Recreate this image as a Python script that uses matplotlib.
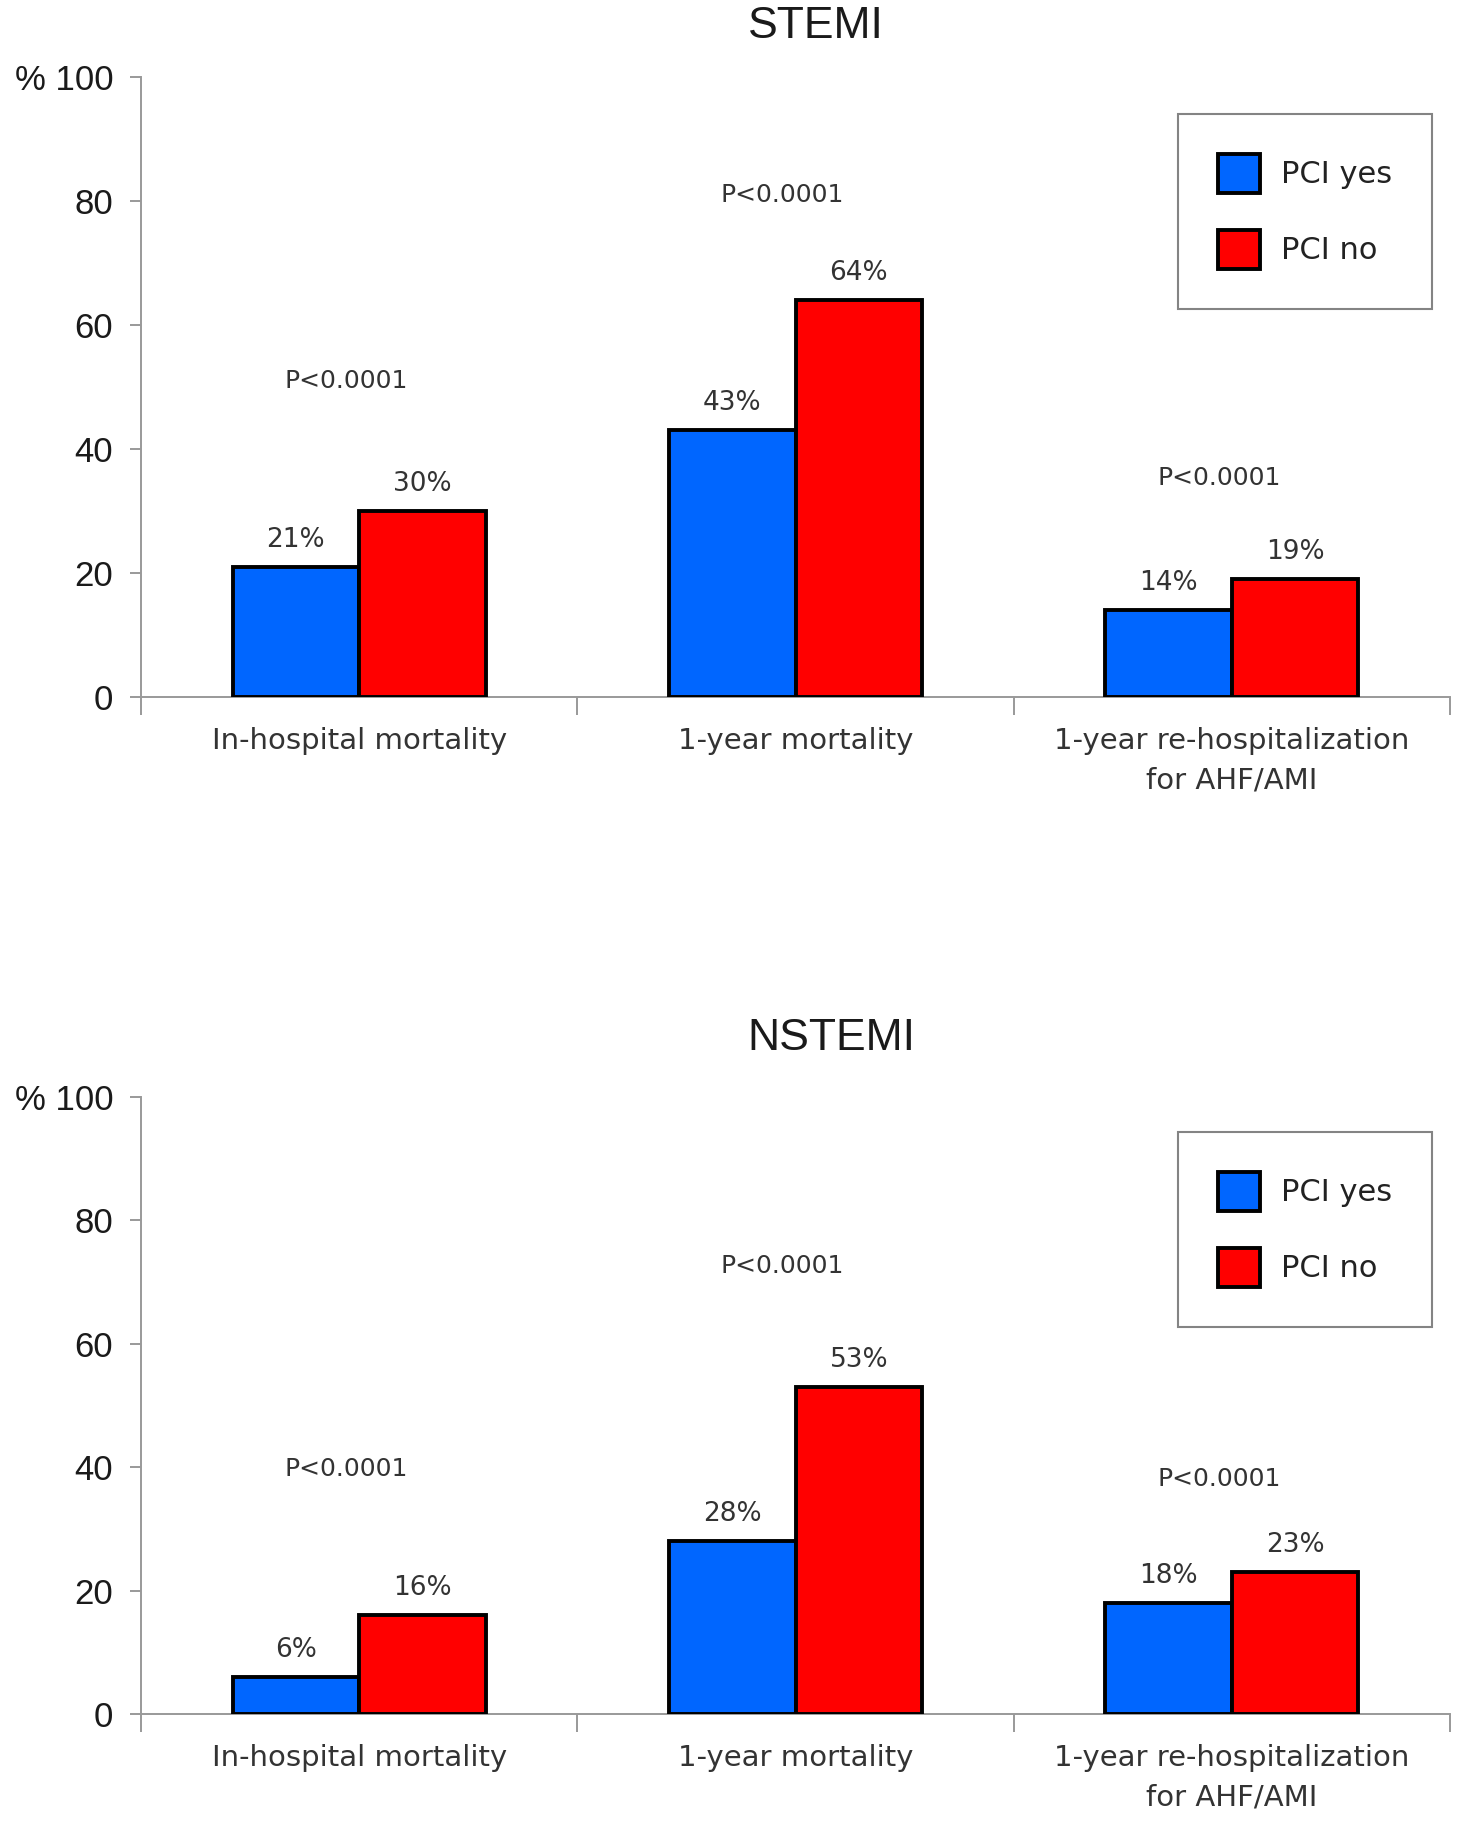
import matplotlib.pyplot as plt
import numpy as np

# dados
categorias = ['In-hospital mortality', '1-year mortality', '1-year re-hospitalization\nfor AHF/AMI']
stemi_sim = [21, 43, 14]
stemi_nao = [30, 64, 19]
nstemi_sim = [6, 28, 18]
nstemi_nao = [16, 53, 23]
p_textos = ['P<0.0001', 'P<0.0001', 'P<0.0001']
stemi_p_altura = [51, 81, 35.3]
nstemi_p_altura = [39.7, 72.6, 38.1]
y_ticks = [0, 20, 40, 60, 80, 100]
y_labels = ['0', '20', '40', '60', '80', '% 100']

azul = '#0066FF'
vermelho = '#FF0000'
fonte_anot = 'DejaVu Sans'
fonte_eixo = 'Liberation Sans'

fig = plt.figure(figsize=(14.57, 18.21), dpi=100)
ax1 = fig.add_axes([0.0968, 0.6173, 0.8984, 0.3405])
ax2 = fig.add_axes([0.0968, 0.0588, 0.8984, 0.3388])


def painel(ax, sim, nao, p_alt, titulo, tx, ty, leg_y):
    x = np.arange(len(categorias))
    w = 0.29
    b1 = ax.bar(x - w / 2, sim, w, color=azul, edgecolor='black', linewidth=2.8, label='PCI yes', zorder=3)
    b2 = ax.bar(x + w / 2, nao, w, color=vermelho, edgecolor='black', linewidth=2.8, label='PCI no', zorder=3)
    for barras, vals in [(b1, sim), (b2, nao)]:
        for b, v in zip(barras, vals):
            ax.annotate('%d%%' % v, (b.get_x() + b.get_width() / 2, v), xytext=(0, 10),
                        textcoords='offset points', ha='center', va='bottom',
                        fontsize=19, color='#333333', family=fonte_anot)
    for i, (t, h) in enumerate(zip(p_textos, p_alt)):
        ax.text(i - 0.03, h, t, ha='center', va='center', fontsize=18, color='#333333', family=fonte_anot)

    ax.set_xlim(-0.5, 2.5)
    ax.set_ylim(0, 100)
    ax.set_yticks(y_ticks)
    ax.set_yticklabels(y_labels, fontsize=25, family=fonte_eixo, color='#1a1a1a')
    ax.set_xticks(x)
    ax.set_xticklabels(categorias, fontsize=21, family=fonte_anot, color='#333333', linespacing=1.5)
    ax.set_xticks([-0.5, 0.5, 1.5, 2.5], minor=True)
    ax.tick_params(axis='x', which='major', length=0, pad=22)
    ax.tick_params(axis='x', which='minor', length=13, width=1.4, color='#999999', direction='out')
    ax.tick_params(axis='y', length=8, width=1.4, color='#999999', pad=12)
    for s in ['top', 'right']:
        ax.spines[s].set_visible(False)
    for s in ['left', 'bottom']:
        ax.spines[s].set_color('#999999')
        ax.spines[s].set_linewidth(1.4)

    leg = ax.legend(loc='upper right', bbox_to_anchor=(0.986, leg_y), borderaxespad=0,
                    fancybox=False, frameon=True, prop={'family': fonte_anot, 'size': 22},
                    handlelength=1.37, handleheight=1.6, handletextpad=0.68,
                    labelspacing=1.2, borderpad=1.3)
    leg.get_frame().set_edgecolor('#666666')
    leg.get_frame().set_linewidth(1.5)
    for t in leg.get_texts():
        t.set_color('#222222')

    fig.text(tx, ty, titulo, ha='center', va='center', fontsize=32, family=fonte_eixo, color='#1a1a1a')


painel(ax1, stemi_sim, stemi_nao, stemi_p_altura, 'STEMI', 816 / 1457, 1 - 27 / 1821, 0.94)
painel(ax2, nstemi_sim, nstemi_nao, nstemi_p_altura, 'NSTEMI', 831 / 1457, 1 - 1038 / 1821, 0.943)

plt.savefig('out.png', dpi=100)
